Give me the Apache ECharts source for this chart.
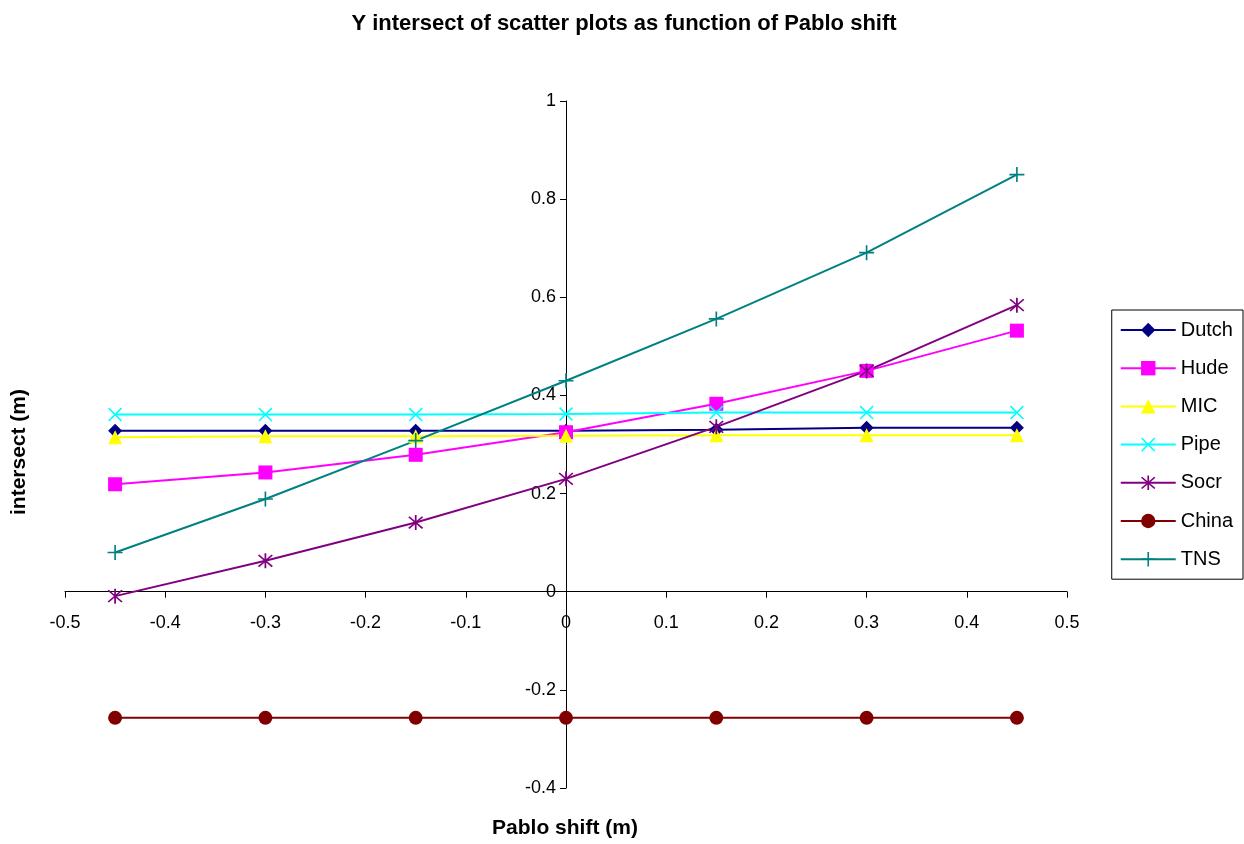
<!DOCTYPE html>
<html>
<head>
<meta charset="utf-8">
<script src="https://cdn.jsdelivr.net/npm/echarts@6/dist/echarts.min.js"></script>
<style>
html,body{margin:0;padding:0;background:#fff;}
#chart{width:1244px;height:844px;}
</style>
</head>
<body>
<div id="chart"></div>
<script>
const shifts = [-0.45, -0.3, -0.15, 0, 0.15, 0.3, 0.45];
const dutch = [0.328, 0.328, 0.328, 0.328, 0.330, 0.334, 0.334];
const hude  = [0.219, 0.243, 0.279, 0.325, 0.383, 0.450, 0.532];
const mic   = [0.315, 0.317, 0.317, 0.318, 0.319, 0.319, 0.319];
const pipe  = [0.361, 0.361, 0.361, 0.362, 0.365, 0.365, 0.365];
const socr  = [-0.009, 0.063, 0.141, 0.230, 0.336, 0.450, 0.584];
const china = [-0.257, -0.257, -0.257, -0.257, -0.257, -0.257, -0.257];
const tns   = [0.080, 0.189, 0.308, 0.430, 0.556, 0.691, 0.850];
const seriesNames = ['Dutch', 'Hude', 'MIC', 'Pipe', 'Socr', 'China', 'TNS'];

const FONT = '"Liberation Sans", Arial, sans-serif';
const SYM_X = 'path://M0,1.6 L1.6,0 L20,18.4 L18.4,20 Z M18.4,0 L20,1.6 L1.6,20 L0,18.4 Z';
const SYM_PLUS = 'path://M8.9,0 L11.1,0 L11.1,20 L8.9,20 Z M0,8.9 L20,8.9 L20,11.1 L0,11.1 Z';
const SYM_AST = 'path://M1.5,2.9 L2.9,1.5 L18.5,17.1 L17.1,18.5 Z M17.1,1.5 L18.5,2.9 L2.9,18.5 L1.5,17.1 Z M9,0 L11,0 L11,20 L9,20 Z';

function mk(name, data, color, symbol, size) {
  return {
    name: name, type: 'line',
    data: shifts.map((x, i) => [x, data[i]]),
    symbol: symbol, symbolSize: size, showAllSymbol: true,
    lineStyle: {color: color, width: 2},
    itemStyle: {color: color, borderColor: color, borderWidth: 0},
    emphasis: {disabled: true},
    animation: false
  };
}

const series = [
  mk('Dutch', dutch, '#000080', 'diamond', 14),
  mk('Hude', hude, '#FF00FF', 'rect', 14),
  mk('MIC', mic, '#FFFF00', 'triangle', 14),
  mk('Pipe', pipe, '#00FFFF', SYM_X, 14),
  mk('Socr', socr, '#800080', SYM_AST, 15),
  mk('China', china, '#800000', 'circle', 14),
  mk('TNS', tns, '#008080', SYM_PLUS, 15)
];

const GRID = {left: 65, right: 177, top: 101, bottom: 56};
const fmt = v => (Math.round(v * 10) / 10).toString();

const chart = echarts.init(document.getElementById('chart'), null, {renderer: 'canvas'});
chart.setOption({
  backgroundColor: '#fff',
  animation: false,
  title: {
    text: 'Y intersect of scatter plots as function of Pablo shift',
    left: 619, top: 8, textAlign: 'center',
    textStyle: {fontFamily: FONT, fontSize: 22, fontWeight: 'bold', color: '#000'}
  },
  grid: Object.assign({containLabel: false}, GRID),
  legend: {
    orient: 'vertical', right: 1, top: 310,
    itemWidth: 55, itemHeight: 18, itemGap: 18.2,
    padding: [10, 10, 10, 8],
    borderColor: '#000', borderWidth: 1,
    textStyle: {fontFamily: FONT, fontSize: 20, color: '#000'},
    data: seriesNames
  },
  xAxis: {
    type: 'value', min: -0.5, max: 0.5, interval: 0.1,
    axisLine: {onZero: false, lineStyle: {color: '#000', width: 1}},
    axisTick: {show: true, length: 6, inside: false, lineStyle: {color: '#000'}},
    axisLabel: {fontFamily: FONT, fontSize: 18, color: '#000', margin: 22, formatter: fmt},
    splitLine: {show: false}
  },
  yAxis: {
    type: 'value', min: -0.4, max: 1, interval: 0.2,
    axisLine: {onZero: false, lineStyle: {color: '#000', width: 1}},
    axisTick: {show: true, length: 6, lineStyle: {color: '#000'}},
    axisLabel: {fontFamily: FONT, fontSize: 18, color: '#000', margin: 10, formatter: fmt},
    splitLine: {show: false}
  },
  graphic: [
    {type: 'text', x: 565, y: 828, style: {text: 'Pablo shift (m)', font: 'bold 21px ' + FONT, fill: '#000', align: 'center', verticalAlign: 'middle'}},
    {type: 'text', x: 19, y: 452, rotation: Math.PI / 2, style: {text: 'intersect (m)', font: 'bold 21px ' + FONT, fill: '#000', align: 'center', verticalAlign: 'middle'}}
  ],
  series: series
});
// move both axes (line, ticks and labels) so they cross at the data origin
const origin = chart.convertToPixel({gridIndex: 0}, [0, 0]);
chart.setOption({
  xAxis: {offset: -((844 - GRID.bottom) - origin[1])},
  yAxis: {offset: -(origin[0] - GRID.left)}
});
</script>
</body>
</html>
